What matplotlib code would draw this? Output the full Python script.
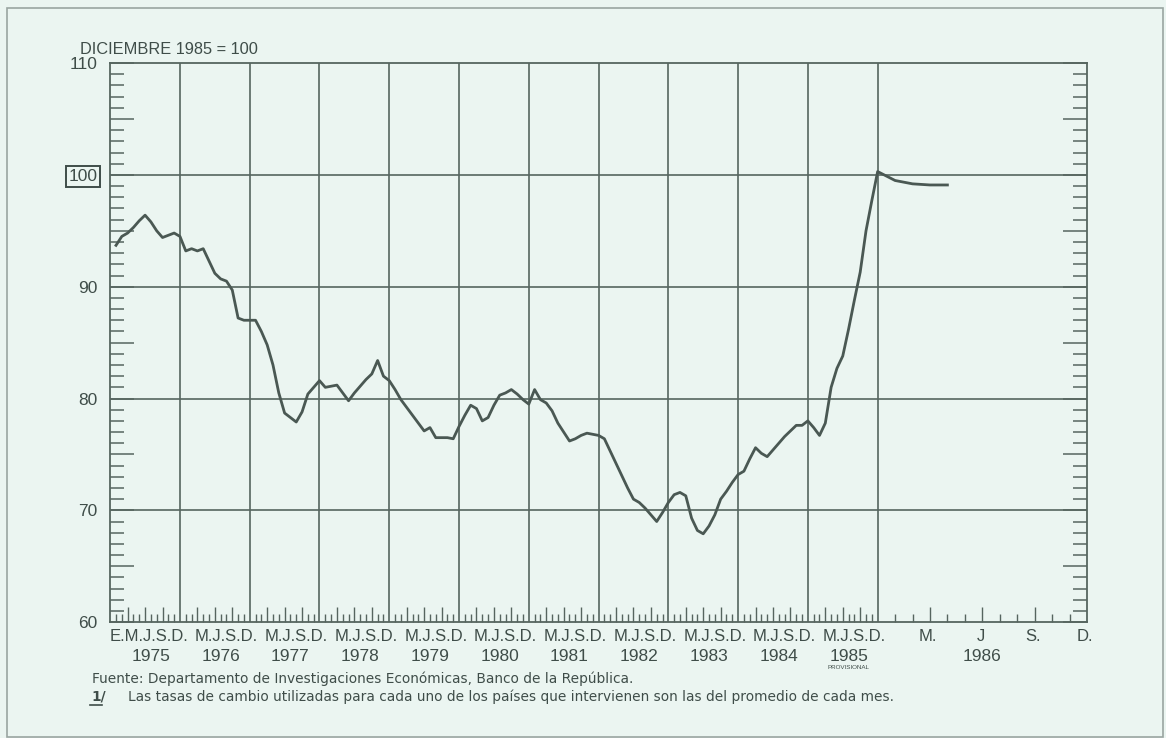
import numpy as np
import matplotlib
matplotlib.use("Agg")
import matplotlib.pyplot as plt
from matplotlib.patches import Rectangle

plt.rcParams['font.family'] = ['Liberation Sans', 'DejaVu Sans']

# ---- data: monthly index (Diciembre 1985 = 100) ----
v1975 = [93.7, 94.5, 94.8, 95.3, 95.9, 96.4, 95.8, 95.0, 94.4, 94.6, 94.8, 94.5]
v1976 = [93.2, 93.4, 93.2, 93.4, 92.3, 91.2, 90.7, 90.5, 89.7, 87.2, 87.0, 87.0]
v1977 = [87.0, 86.0, 84.8, 83.0, 80.5, 78.7, 78.3, 77.9, 78.8, 80.4, 81.0, 81.6]
v1978 = [81.0, 81.1, 81.2, 80.5, 79.8, 80.5, 81.1, 81.7, 82.2, 83.4, 82.0, 81.6]
v1979 = [80.8, 79.9, 79.2, 78.5, 77.8, 77.1, 77.4, 76.5, 76.5, 76.5, 76.4, 77.5]
v1980 = [78.5, 79.4, 79.1, 78.0, 78.3, 79.4, 80.3, 80.5, 80.8, 80.4, 79.9, 79.5]
v1981 = [80.8, 79.9, 79.6, 78.9, 77.8, 77.0, 76.2, 76.4, 76.7, 76.9, 76.8, 76.7]
v1982 = [76.4, 75.3, 74.2, 73.1, 72.0, 71.0, 70.7, 70.2, 69.6, 69.0, 69.8, 70.7]
v1983 = [71.4, 71.6, 71.3, 69.3, 68.2, 67.9, 68.6, 69.6, 71.0, 71.7, 72.5, 73.2]
v1984 = [73.5, 74.6, 75.6, 75.1, 74.8, 75.4, 76.0, 76.6, 77.1, 77.6, 77.6, 78.0]
v1985 = [77.4, 76.7, 77.8, 81.0, 82.7, 83.8, 86.2, 88.8, 91.3, 95.0, 97.7, 100.3]
v1986 = [99.5, 99.2, 99.1, 99.1]

years = ["1975", "1976", "1977", "1978", "1979", "1980", "1981", "1982",
         "1983", "1984", "1985"]
month_groups = ["E.M.J.S.D."] + ["M.J.S.D."] * 10
year_1986 = "1986"
months_1986 = ["M.", "J", "S.", "D."]
y_ticks = [60, 70, 80, 90, 100, 110]

title_txt = "DICIEMBRE 1985 = 100"
source_txt = "Fuente: Departamento de Investigaciones Económicas, Banco de la República."
note_mark = "1/"
note_txt = "Las tasas de cambio utilizadas para cada uno de los países que intervienen son las del promedio de cada mes."
prov_txt = "PROVISIONAL"

series = np.array(v1975 + v1976 + v1977 + v1978 + v1979 + v1980 + v1981 +
                  v1982 + v1983 + v1984 + v1985 + v1986)
t = np.arange(1, len(series) + 1)   # end of month, months since Jan 1975

# ---- style ----
BG = '#ebf5f1'
INK = '#3f4d49'
GRID = '#56655f'
LINE = '#4a5853'

BREAK = 132.0   # end of 1985; 1986 drawn at triple scale


def fwd(x):
    x = np.asarray(x, dtype=float)
    return np.where(x <= BREAK, x, BREAK + 3.0 * (x - BREAK))


def inv(x):
    x = np.asarray(x, dtype=float)
    return np.where(x <= BREAK, x, BREAK + (x - BREAK) / 3.0)


fig = plt.figure(figsize=(11.66, 7.38), dpi=100, facecolor=BG)
ax = fig.add_axes([0.0945, 0.157, 0.8377, 0.7575])
ax.set_facecolor(BG)
ax.set_xscale('function', functions=(fwd, inv))
ax.set_xlim(0, 144)
ax.set_ylim(60, 110)

for s in ax.spines.values():
    s.set_color(GRID)
    s.set_linewidth(1.3)

# grid
for yv in [70, 80, 90, 100]:
    ax.axhline(yv, color=GRID, lw=1.2, zorder=1)
for k in range(1, 12):
    ax.axvline(12 * k, color=GRID, lw=1.2, zorder=1)

# data line
ax.plot(t, series, color=LINE, lw=2.0, zorder=3, solid_joinstyle='round')

# y ticks
ax.set_yticks(np.arange(60, 111, 5))
ax.set_yticklabels([str(v) if v in y_ticks else "" for v in np.arange(60, 111, 5)])
ax.set_yticks(np.arange(60, 111, 1), minor=True)
ax.tick_params(axis='y', which='major', direction='in', length=17, width=1.1,
               color=GRID, left=True, right=True, labelsize=12.5,
               labelcolor=INK, pad=9)
ax.tick_params(axis='y', which='minor', direction='in', length=10, width=1.1,
               color=GRID, left=True, right=True)
for lab in ax.get_yticklabels():
    if lab.get_text() == "100":
        lab.set_bbox(dict(boxstyle='square,pad=0.15', fc='none', ec=INK, lw=1.4))

# x ticks (month ends), longer at quarters
quarters = [m for m in range(1, 145) if m % 3 == 0 and m % 12 != 0]
months = [m for m in range(1, 145) if m % 3 != 0]
ax.set_xticks(quarters)
ax.set_xticklabels([])
ax.set_xticks(months, minor=True)
ax.tick_params(axis='x', which='major', direction='in', length=11, width=1.0,
               color=GRID, top=False, bottom=True)
ax.tick_params(axis='x', which='minor', direction='in', length=6, width=1.0,
               color=GRID, top=False, bottom=True)

# x labels
trans = ax.get_xaxis_transform()
for i, (yr, grp) in enumerate(zip(years, month_groups)):
    cx = 12 * i + (6.6 if i == 0 else 8.0)
    ax.text(cx, -0.013, grp, transform=trans, ha='center', va='top',
            fontsize=12, color=INK)
    ax.text(12 * i + 7.0, -0.048, yr, transform=trans, ha='center', va='top',
            fontsize=12.5, color=INK)
for j, lab in enumerate(months_1986):
    ax.text(BREAK + 3 * (j + 1) - 0.1, -0.013, lab, transform=trans,
            ha='center', va='top', fontsize=12, color=INK)
ax.text(BREAK + 6, -0.048, year_1986, transform=trans, ha='center', va='top',
        fontsize=12.5, color=INK)
ax.text(12 * 10 + 7.0, -0.077, prov_txt, transform=trans, ha='center',
        va='top', fontsize=4.5, color=INK)

# header and notes
fig.text(80 / 1166, 1 - 49 / 738, title_txt, ha='left', va='center',
         fontsize=11.8, color=INK)
fig.text(92 / 1166, 1 - 679 / 738, source_txt, ha='left', va='center',
         fontsize=9.95, color=INK, family='DejaVu Sans')
fig.text(91 / 1166, 1 - 697 / 738, note_mark, ha='left', va='center',
         fontsize=9.95, color=INK, fontweight='bold', family='DejaVu Sans')
fig.add_artist(plt.Line2D([90 / 1166, 102 / 1166], [1 - 705 / 738, 1 - 705 / 738],
                          color=INK, lw=1.2))
fig.text(128 / 1166, 1 - 697 / 738, note_txt, ha='left', va='center',
         fontsize=9.95, color=INK, family='DejaVu Sans')

# outer frame
fig.add_artist(Rectangle((7 / 1166, 1 / 738), (1163 - 7) / 1166, (737 - 8) / 738,
                         transform=fig.transFigure, fill=False, ec='#9aa5a1',
                         lw=1.2))

fig.savefig("out.png", dpi=100, facecolor=BG)
